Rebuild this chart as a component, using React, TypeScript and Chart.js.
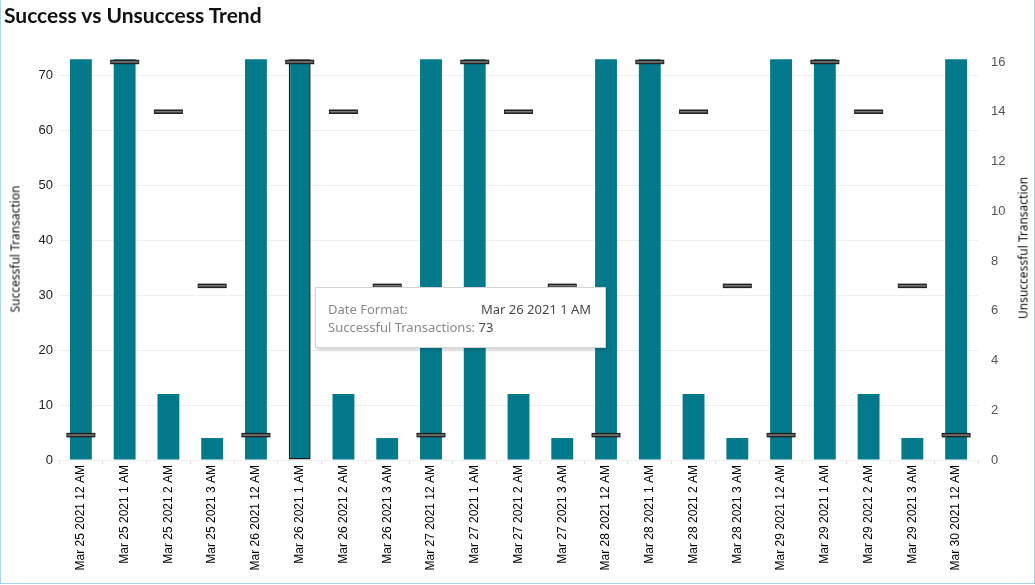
import React, { useEffect, useRef } from "react";
import { Chart, registerables } from "chart.js";

Chart.register(...registerables);

const categories: string[] = [
  "Mar 25 2021 12 AM", "Mar 25 2021 1 AM", "Mar 25 2021 2 AM", "Mar 25 2021 3 AM",
  "Mar 26 2021 12 AM", "Mar 26 2021 1 AM", "Mar 26 2021 2 AM", "Mar 26 2021 3 AM",
  "Mar 27 2021 12 AM", "Mar 27 2021 1 AM", "Mar 27 2021 2 AM", "Mar 27 2021 3 AM",
  "Mar 28 2021 12 AM", "Mar 28 2021 1 AM", "Mar 28 2021 2 AM", "Mar 28 2021 3 AM",
  "Mar 29 2021 12 AM", "Mar 29 2021 1 AM", "Mar 29 2021 2 AM", "Mar 29 2021 3 AM",
  "Mar 30 2021 12 AM",
];

const successful: number[] = [
  73, 73, 12, 4,
  73, 73, 12, 4,
  73, 73, 12, 4,
  73, 73, 12, 4,
  73, 73, 12, 4,
  73,
];

const unsuccessful: number[] = [
  1, 16, 14, 7,
  1, 16, 14, 7,
  1, 16, 14, 7,
  1, 16, 14, 7,
  1, 16, 14, 7,
  1,
];

const highlightedIndex = 5;
const leftTicksStep = 10;
const rightTicksStep = 2;

const TEAL = "#037a8b";

export default function App() {
  const canvasRef = useRef<HTMLCanvasElement | null>(null);

  useEffect(() => {
    document.body.style.margin = "0";
    const canvas = canvasRef.current;
    if (!canvas) return;
    const chart = new Chart(canvas, {
      type: "bar",
      data: {
        labels: categories,
        datasets: [
          {
            type: "line",
            label: "Unsuccessful (inner)",
            data: unsuccessful,
            yAxisID: "y1",
            showLine: false,
            pointStyle: "line",
            pointRadius: 13.5,
            pointBorderWidth: 1.5,
            pointBorderColor: "#7d7d7d",
            pointBackgroundColor: "#7d7d7d",
            borderColor: "#7d7d7d",
            order: 0,
          } as any,
          {
            type: "line",
            label: "Unsuccessful",
            data: unsuccessful,
            yAxisID: "y1",
            showLine: false,
            pointStyle: "line",
            pointRadius: 14.5,
            pointBorderWidth: 4.5,
            pointBorderColor: "#222",
            pointBackgroundColor: "#222",
            borderColor: "#222",
            order: 1,
          } as any,
          {
            type: "bar",
            label: "Successful",
            data: successful,
            yAxisID: "y",
            backgroundColor: TEAL,
            borderColor: successful.map((_, i) => (i === highlightedIndex ? "#1a1a1a" : TEAL)),
            borderWidth: successful.map((_, i) => (i === highlightedIndex ? 1.5 : 0)),
            borderSkipped: false,
            barPercentage: 0.5,
            categoryPercentage: 1,
            order: 2,
          } as any,
        ],
      },
      options: {
        responsive: false,
        animation: false,
        events: [],
        layout: { padding: { top: 57, left: 0, right: 0, bottom: 2 } },
        plugins: {
          legend: { display: false },
          tooltip: { enabled: false },
          title: { display: false },
        },
        scales: {
          x: {
            type: "category",
            offset: true,
            grid: {
              drawOnChartArea: false,
              offset: true,
              tickLength: 4,
              color: "#e3e3e3",
            },
            border: { display: false },
            ticks: {
              autoSkip: false,
              minRotation: 90,
              maxRotation: 90,
              padding: 1,
              color: "#000",
              font: { family: "'Liberation Sans', Arial, sans-serif", size: 12 },
            },
            afterFit: (s: any) => {
              s.height = 123;
            },
          },
          y: {
            type: "linear",
            position: "left",
            min: 0,
            max: 73.4,
            grid: { color: "#efefef", drawTicks: false },
            border: { display: false },
            ticks: {
              stepSize: leftTicksStep,
              includeBounds: false,
              padding: 6,
              color: "#222",
              font: { family: "'Liberation Sans', Arial, sans-serif", size: 13 },
            },
            afterFit: (s: any) => {
              s.width = 59;
            },
          },
          y1: {
            type: "linear",
            position: "right",
            min: 0,
            max: 16.2,
            grid: { display: false },
            border: { display: false },
            ticks: {
              stepSize: rightTicksStep,
              includeBounds: false,
              padding: 5,
              color: "#555",
              font: { family: "'Liberation Sans', Arial, sans-serif", size: 13 },
            },
            afterFit: (s: any) => {
              s.width = 57;
            },
          },
        },
      } as any,
    });
    return () => chart.destroy();
  }, []);

  const axisTitle: React.CSSProperties = {
    position: "absolute",
    fontFamily: "'Noto Sans', sans-serif",
    fontSize: 12,
    color: "#111",
    whiteSpace: "nowrap",
    transform: "translate(-50%, -50%) rotate(-90deg)",
  };

  return (
    <div
      style={{
        position: "relative",
        width: 1035,
        height: 585,
        background: "#fff",
        overflow: "hidden",
      }}
    >
      <canvas
        ref={canvasRef}
        width={1035}
        height={585}
        style={{ position: "absolute", left: 0, top: 0 }}
      />
      <div
        style={{
          position: "absolute",
          left: 4,
          top: 2,
          fontFamily: "Lato, 'Noto Sans', sans-serif",
          fontWeight: 700,
          fontSize: 21,
          color: "#111",
          whiteSpace: "nowrap",
        }}
      >
        Success vs Unsuccess Trend
      </div>
      <div style={{ ...axisTitle, left: 15, top: 249 }}>Successful Transaction</div>
      <div style={{ ...axisTitle, left: 1023, top: 248 }}>Unsuccessful Transaction</div>
      <div
        style={{
          position: "absolute",
          left: 315,
          top: 287,
          width: 291,
          height: 61,
          boxSizing: "border-box",
          background: "#fff",
          border: "1px solid #d4d4d4",
          boxShadow: "1px 2px 3px rgba(0,0,0,0.18)",
          fontFamily: "'Noto Sans', sans-serif",
          fontSize: 13,
          color: "#8a8a8a",
        }}
      >
        <div style={{ position: "absolute", left: 12, top: 12, whiteSpace: "nowrap" }}>Date Format:</div>
        <div style={{ position: "absolute", left: 165, top: 12, whiteSpace: "nowrap", color: "#4a4a4a" }}>
          Mar 26 2021 1 AM
        </div>
        <div style={{ position: "absolute", left: 12, top: 30, whiteSpace: "nowrap" }}>
          Successful Transactions: <span style={{ color: "#4a4a4a" }}>73</span>
        </div>
      </div>
      <div
        style={{
          position: "absolute",
          left: 0,
          top: 0,
          width: 1035,
          height: 584,
          boxSizing: "border-box",
          borderLeft: "1px solid #a8d2ef",
          borderRight: "1px solid #a8d2ef",
          borderBottom: "1px solid #a8d2ef",
          pointerEvents: "none",
        }}
      />
    </div>
  );
}
